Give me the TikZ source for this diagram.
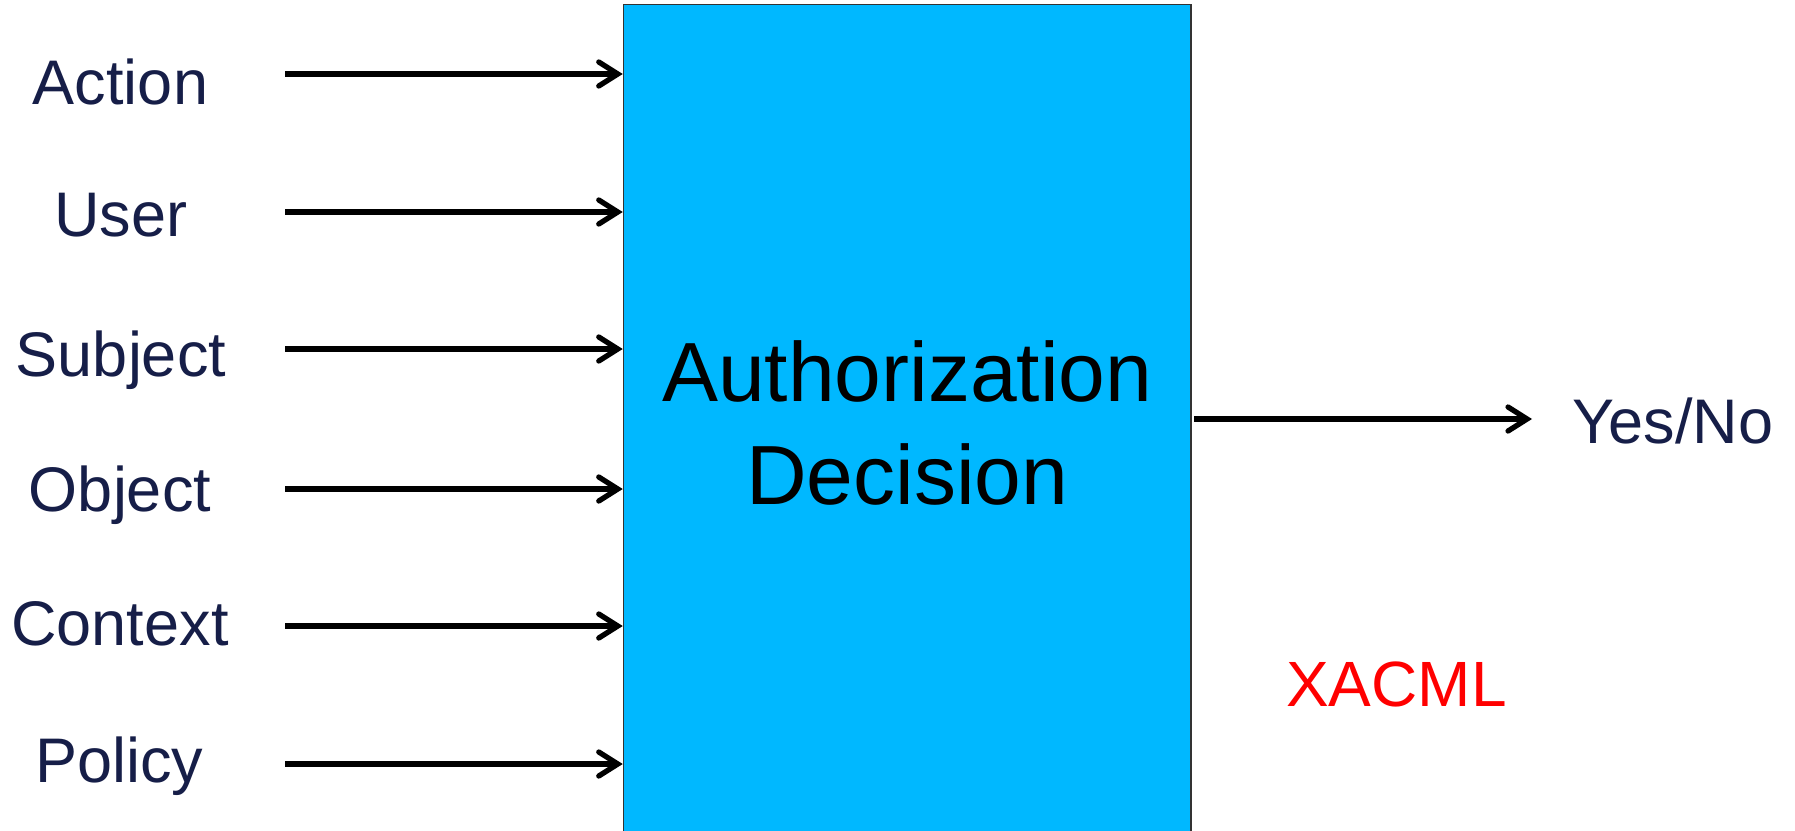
\documentclass[tikz,border=0pt]{standalone}
\usepackage{fontspec}
\setmainfont{Liberation Sans}
\usetikzlibrary{arrows.meta}
\definecolor{boxblue}{RGB}{0,184,255}
\definecolor{navy}{RGB}{22,30,72}
\definecolor{xred}{RGB}{255,0,0}
\begin{document}
\begin{tikzpicture}[x=1pt,y=-1pt,
  inlabel/.style={anchor=base,inner sep=0pt,text=navy,font=\fontsize{63}{75}\selectfont},
  conn/.style={line width=5.3pt,-{Straight Barb[length=19pt,width=24pt,line cap=round]}},
  decbox/.style={draw=black!80,line width=1.5pt,fill=boxblue,inner sep=0pt,
     minimum width=567.5pt,minimum height=836pt,align=center,
     font=\fontsize{84}{103}\selectfont}]
\useasboundingbox (0,0) rectangle (1795,830);
\clip (0,0) rectangle (1795,830);
\fill[white] (0,0) rectangle (1795,830);

\node[decbox] (box) at (907.25,422.5) {Authorization\\Decision};

\foreach \nm/\txt/\yy/\bb/\xx in {act/Action/74/104/120.5,usr/User/212/236/121,sub/Subject/349/376/121,obj/Object/489/511/120,ctx/Context/626/645/120,pol/Policy/764/782/119.5}{
  \node[inlabel] (lbl-\nm) at (\xx,\bb) {\txt};
  \coordinate (s-\nm) at (285,\yy);
  \draw[conn] (s-\nm) -- (s-\nm -| box.west);
}

\coordinate (outy) at (1194,419);
\coordinate (oute) at (1532,419);
\draw[conn] (outy) -- (oute);
\node[inlabel,anchor=base west] (yesno) at (1572,443) {Yes/No};
\node[inlabel,anchor=base west,text=xred,font=\fontsize{64}{76}\selectfont] (xacml) at (1286,706) {XACML};
\end{tikzpicture}
\end{document}
